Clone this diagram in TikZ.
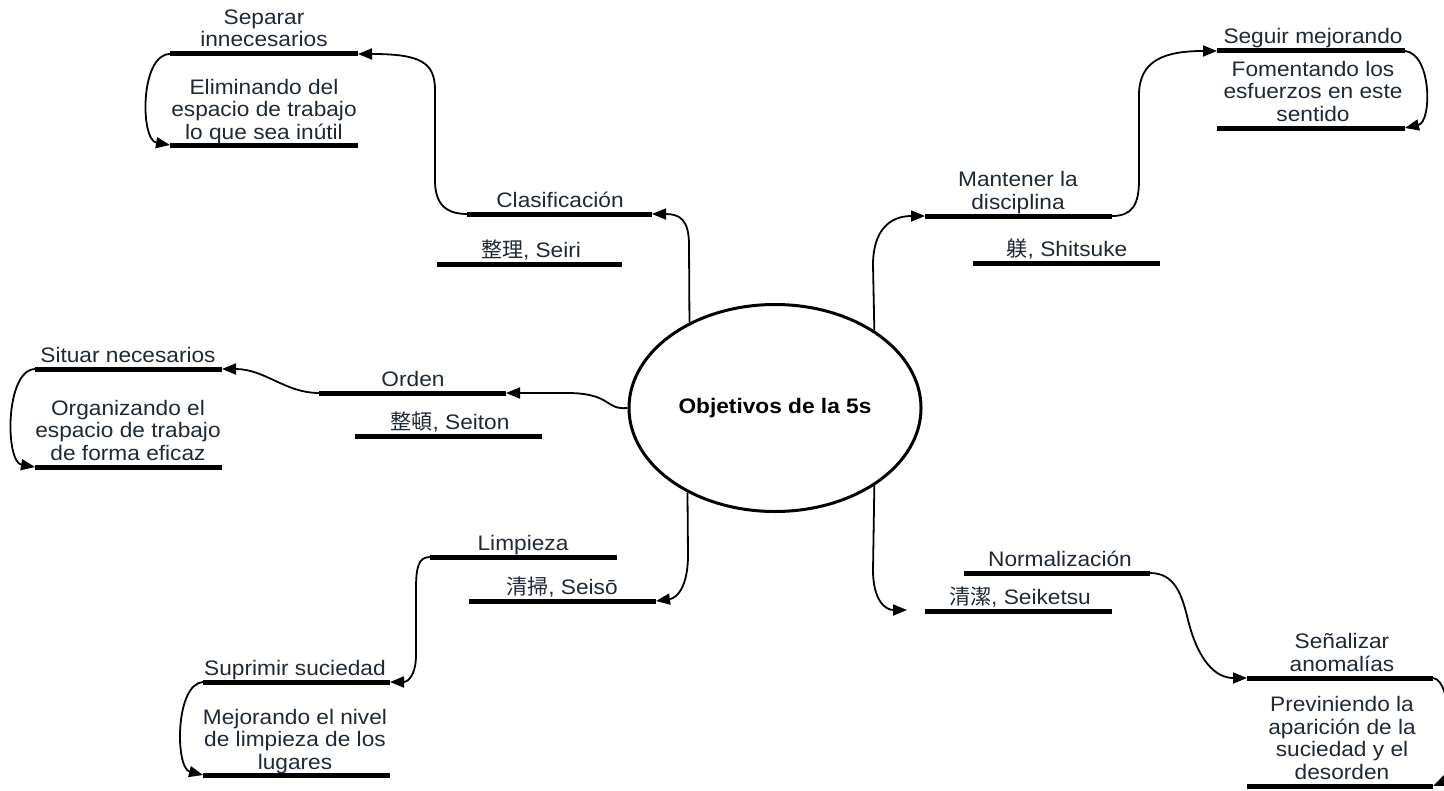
\documentclass[tikz,border=0pt]{standalone}
\usepackage{fontspec}
\setmainfont{Liberation Sans}[FakeStretch=1.08]
\newfontfamily\cjk{Noto Sans CJK JP}
\usetikzlibrary{arrows.meta,shapes.geometric}
\definecolor{ink}{RGB}{30,40,55}
\begin{document}
\begin{tikzpicture}[x=1bp,y=-1bp,
  bar/.style={line width=5bp,black},
  link/.style={line width=1.8bp,-{Triangle[length=14bp,width=11bp]}},
  lbl/.style={font=\fontsize{21bp}{22.5bp}\selectfont,text=ink,align=center,inner sep=0,anchor=base},
  hubstyle/.style={ellipse,draw,line width=3bp,minimum width=292bp,minimum height=207bp,inner sep=0,
    font=\fontsize{21bp}{22.5bp}\selectfont\bfseries}]
\useasboundingbox (0,0) rectangle (1444,790);

% central topic
\node[hubstyle] (hub) at (775,408) {Objetivos de la 5s};

% bar end points
\coordinate (sepL) at (170,54);   \coordinate (sepR) at (358,54);
\coordinate (sepBL) at (170,145); \coordinate (sepBR) at (358,145);
\coordinate (clsL) at (467,214);  \coordinate (clsR) at (652,214);
\coordinate (seiriL) at (437,264); \coordinate (seiriR) at (622,264);
\coordinate (ordL) at (319,393);  \coordinate (ordR) at (506,393);
\coordinate (seitL) at (355,436); \coordinate (seitR) at (542,436);
\coordinate (sitL) at (35,369);   \coordinate (sitR) at (222,369);
\coordinate (sitBL) at (35,467);  \coordinate (sitBR) at (222,467);
\coordinate (limL) at (430,557);  \coordinate (limR) at (617,557);
\coordinate (seisoL) at (469,601); \coordinate (seisoR) at (656,601);
\coordinate (supL) at (203,682);  \coordinate (supR) at (390,682);
\coordinate (supBL) at (203,775); \coordinate (supBR) at (390,775);
\coordinate (norL) at (964,573);  \coordinate (norR) at (1150,573);
\coordinate (seikL) at (925,611); \coordinate (seikR) at (1112,611);
\coordinate (seikIn) at (907,610);
\coordinate (senL) at (1247,678); \coordinate (senR) at (1433,678);
\coordinate (senBL) at (1247,786); \coordinate (senBR) at (1433,786);
\coordinate (manL) at (925,216);  \coordinate (manR) at (1112,216);
\coordinate (shiL) at (973,263);  \coordinate (shiR) at (1160,263);
\coordinate (segL) at (1217,51);  \coordinate (segR) at (1405,51);
\coordinate (segBL) at (1217,128); \coordinate (segBR) at (1405,128);

% bars
\foreach \a/\b in {sepL/sepR,sepBL/sepBR,clsL/clsR,seiriL/seiriR,ordL/ordR,seitL/seitR,
  sitL/sitR,sitBL/sitBR,limL/limR,seisoL/seisoR,supL/supR,supBL/supBR,norL/norR,seikL/seikR,
  senL/senR,senBL/senBR,manL/manR,shiL/shiR,segL/segR,segBL/segBR}
  \draw[bar] (\a) -- (\b);

% labels (anchor base = baseline of the last line)
\node[lbl] (tSep) at (264,47) {Separar\\innecesarios};
\node[lbl] (dSep) at (264,139) {Eliminando del\\espacio de trabajo\\lo que sea inútil};
\node[lbl] (tCls) at (560,207) {Clasificación};
\node[lbl] (tSeiri) at (531,257) {{\cjk 整理}, Seiri};
\node[lbl] (tOrd) at (413,386) {Orden};
\node[lbl] (tSeit) at (450,429) {{\cjk 整頓}, Seiton};
\node[lbl] (tSit) at (128,362) {Situar necesarios};
\node[lbl] (dSit) at (128,460) {Organizando el\\espacio de trabajo\\de forma eficaz};
\node[lbl] (tLim) at (523,550) {Limpieza};
\node[lbl] (tSeiso) at (562,594) {{\cjk 清掃}, Seisō};
\node[lbl] (tSup) at (295,675) {Suprimir suciedad};
\node[lbl] (dSup) at (295,769) {Mejorando el nivel\\de limpieza de los\\lugares};
\node[lbl] (tNor) at (1060,566) {Normalización};
\node[lbl] (tSeik) at (1020,604) {{\cjk 清潔}, Seiketsu};
\node[lbl] (tSen) at (1342,671) {Señalizar\\anomalías};
\node[lbl] (dSen) at (1342,779) {Previniendo la\\aparición de la\\suciedad y el\\desorden};
\node[lbl] (tMan) at (1018,209) {Mantener la\\disciplina};
\node[lbl] (tShi) at (1067,256) {{\cjk 躾}, Shitsuke};
\node[lbl] (tSeg) at (1313,44) {Seguir mejorando};
\node[lbl] (dSeg) at (1313,121) {Fomentando los\\esfuerzos en este\\sentido};

% connectors from the hub
\draw[link] (hub.135) -- (689,245) .. controls (689,220) and (680,214) .. (clsR);
\draw[link] (hub.west) .. controls (605,410) and (612,394) .. (570,393) -- (ordR);
\draw[link] (hub.-136) -- (688,555) .. controls (688,585) and (678,598) .. (seisoR);
\draw[link] (hub.-38) -- (873,570) .. controls (873,600) and (885,610) .. (seikIn);
\draw[link] (hub.38) -- (873,265) .. controls (873,230) and (890,216) .. (manL);

% second-level connectors
\draw[link] (clsL) .. controls (442,214) and (435,200) .. (435,180) -- (435,90)
  .. controls (435,62) and (420,54) .. (sepR);
\draw[link] (ordL) .. controls (285,393) and (265,369) .. (sitR);
\draw[link] (limL) .. controls (418,557) and (416,568) .. (416,590) -- (416,655)
  .. controls (416,675) and (408,682) .. (supR);
\draw[link] (norR) .. controls (1175,573) and (1182,595) .. (1188,620)
  .. controls (1198,660) and (1215,678) .. (senL);
\draw[link] (manR) .. controls (1132,216) and (1139,205) .. (1139,180) -- (1139,95)
  .. controls (1139,60) and (1165,51) .. (segL);

% loops from title bar to description bar
\draw[link] (sepL) .. controls (140,54) and (140,140) .. (sepBL);
\draw[link] (sitL) .. controls (5,370) and (5,462) .. (sitBL);
\draw[link] (supL) .. controls (175,684) and (175,768) .. (supBL);
\draw[link] (senR) .. controls (1455,680) and (1452,778) .. (senBR);
\draw[link] (segR) .. controls (1432,54) and (1432,122) .. (segBR);
\end{tikzpicture}
\end{document}
